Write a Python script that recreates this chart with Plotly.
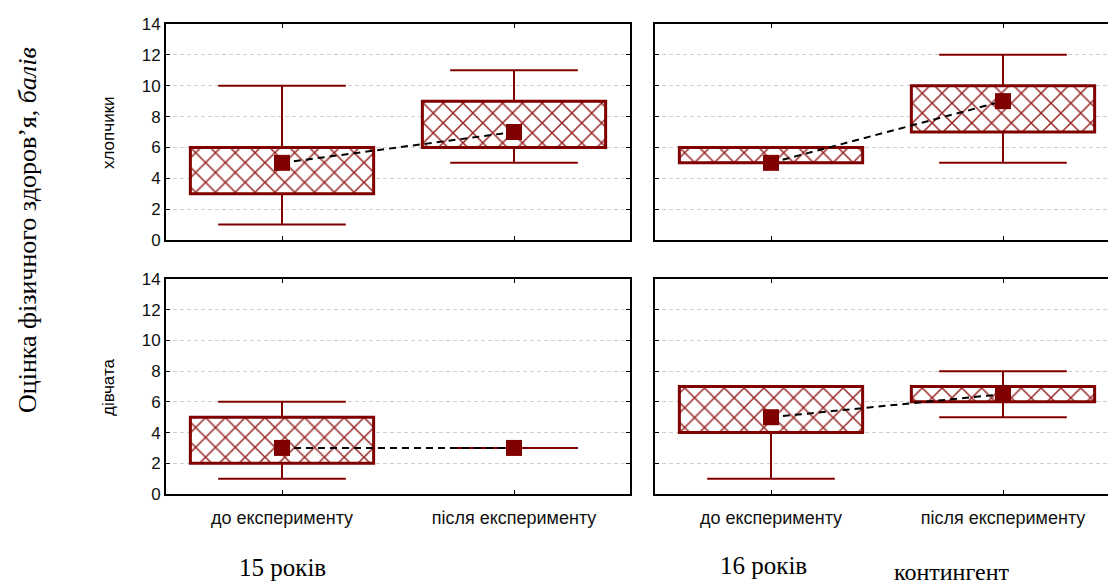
import plotly.graph_objects as go

# ---------------- data ----------------
categories = ["до експерименту", "після експерименту"]
ages = ["15 років", "16 років"]
sexes = ["хлопчики", "дівчата"]
y_ticks = [0, 2, 4, 6, 8, 10, 12, 14]

boys15_min = [1, 5]
boys15_q1 = [3, 6]
boys15_med = [5, 7]
boys15_q3 = [6, 9]
boys15_max = [10, 11]

boys16_min = [5, 5]
boys16_q1 = [5, 7]
boys16_med = [5, 9]
boys16_q3 = [6, 10]
boys16_max = [6, 12]

girls15_min = [1, 3]
girls15_q1 = [2, 3]
girls15_med = [3, 3]
girls15_q3 = [5, 3]
girls15_max = [6, 3]

girls16_min = [1, 5]
girls16_q1 = [4, 6]
girls16_med = [5, 6.5]
girls16_q3 = [7, 7]
girls16_max = [7, 8]

# ---------------- style ----------------
W, H = 1108, 587
RED = "#800000"
BOX_W = 0.79
CAP_HALF = 0.275
SANS = "Liberation Sans, Arial"
SERIF = "Liberation Serif, Times New Roman"


def px(x):
    return x / W


def py(y):
    return 1 - y / H


panels = [
    ("x", "y", (boys15_min, boys15_q1, boys15_med, boys15_q3, boys15_max), (166, 630), (24, 240), True),
    ("x2", "y2", (boys16_min, boys16_q1, boys16_med, boys16_q3, boys16_max), (655, 1108), (24, 240), False),
    ("x3", "y3", (girls15_min, girls15_q1, girls15_med, girls15_q3, girls15_max), (166, 630), (279, 494), True),
    ("x4", "y4", (girls16_min, girls16_q1, girls16_med, girls16_q3, girls16_max), (655, 1108), (279, 494), False),
]

fig = go.Figure()
layout = {}
xi = list(range(len(categories)))

for ax, ay, (mn, q1, med, q3, mx), xd, yd, is_left in panels:
    heights = [(b - a) if b > a else None for a, b in zip(q1, q3)]
    fig.add_trace(go.Bar(
        x=xi, y=heights, base=q1, width=BOX_W, xaxis=ax, yaxis=ay,
        marker=dict(color="white",
                    line=dict(color=RED, width=3),
                    pattern=dict(shape="x", fgcolor="#8b0a0a", bgcolor="white",
                                 size=14, solidity=0.2, fgopacity=0.9)),
        showlegend=False, hoverinfo="skip"))
    wx, wy = [], []
    for i in xi:
        wx += [i, i, None, i, i, None, i - CAP_HALF, i + CAP_HALF, None, i - CAP_HALF, i + CAP_HALF, None]
        wy += [q3[i], mx[i], None, q1[i], mn[i], None, mx[i], mx[i], None, mn[i], mn[i], None]
    fig.add_trace(go.Scatter(x=wx, y=wy, mode="lines", xaxis=ax, yaxis=ay,
                             line=dict(color=RED, width=2), showlegend=False,
                             hoverinfo="skip"))
    fig.add_trace(go.Scatter(x=xi, y=med, mode="lines+markers", xaxis=ax, yaxis=ay,
                             line=dict(color="black", width=2, dash="7px,5px"),
                             marker=dict(symbol="square", size=16, color=RED),
                             showlegend=False))

    xr_end = -0.5 + (xd[1] - xd[0]) / 232.0
    xname = "xaxis" + ax[1:]
    yname = "yaxis" + ay[1:]
    is_bottom = yd[1] > 300
    layout[xname] = dict(
        domain=[px(xd[0]), px(xd[1])], range=[-0.5, xr_end], anchor=ay,
        tickvals=xi, ticktext=categories, showticklabels=is_bottom,
        ticks="inside", ticklen=4, tickcolor="black", tickwidth=1,
        showline=True, linecolor="black", linewidth=2, mirror="ticks",
        showgrid=False, zeroline=False, ticklabelstandoff=6, automargin=False,
        tickfont=dict(family=SANS, size=18, color="#111"),
    )
    layout[yname] = dict(
        domain=[py(yd[1]), py(yd[0])], range=[0, 14], anchor=ax,
        tickvals=y_ticks, showticklabels=is_left,
        ticks="inside", ticklen=4, tickcolor="black", tickwidth=1,
        showline=True, linecolor="black", linewidth=2,
        mirror="ticks" if is_left else False,
        showgrid=True, gridcolor="#cfcfcf", griddash="4px,3px", gridwidth=1,
        zeroline=False, automargin=False,
        tickfont=dict(family=SANS, size=17, color="#111"),
    )

annotations = [
    dict(x=px(27), y=py(230), text="Оцінка фізичного здоров’я, <i>балів</i>",
         textangle=-90, font=dict(family=SERIF, size=26, color="black")),
    dict(x=px(108), y=py(133), text=sexes[0], textangle=-90,
         font=dict(family=SANS, size=17, color="black")),
    dict(x=px(108), y=py(388), text=sexes[1], textangle=-90,
         font=dict(family=SANS, size=17, color="black")),
    dict(x=px(282), y=py(567), text=ages[0],
         font=dict(family=SERIF, size=25, color="black")),
    dict(x=px(763), y=py(565), text=ages[1],
         font=dict(family=SERIF, size=25, color="black")),
    dict(x=px(951), y=py(572), text="контингент",
         font=dict(family=SERIF, size=24, color="black")),
]
for a in annotations:
    a.update(xref="paper", yref="paper", showarrow=False, xanchor="center", yanchor="middle")

fig.update_layout(
    width=W, height=H, autosize=False, margin=dict(l=0, r=0, t=0, b=0, pad=0),
    paper_bgcolor="white", plot_bgcolor="white",
    barmode="overlay", showlegend=False,
    annotations=annotations, **layout,
)

fig.write_html("out.html",
               config={"displayModeBar": False, "responsive": False},
               post_script="document.body.style.margin='0';document.body.style.padding='0';"
                           "document.documentElement.style.overflow='hidden';")
